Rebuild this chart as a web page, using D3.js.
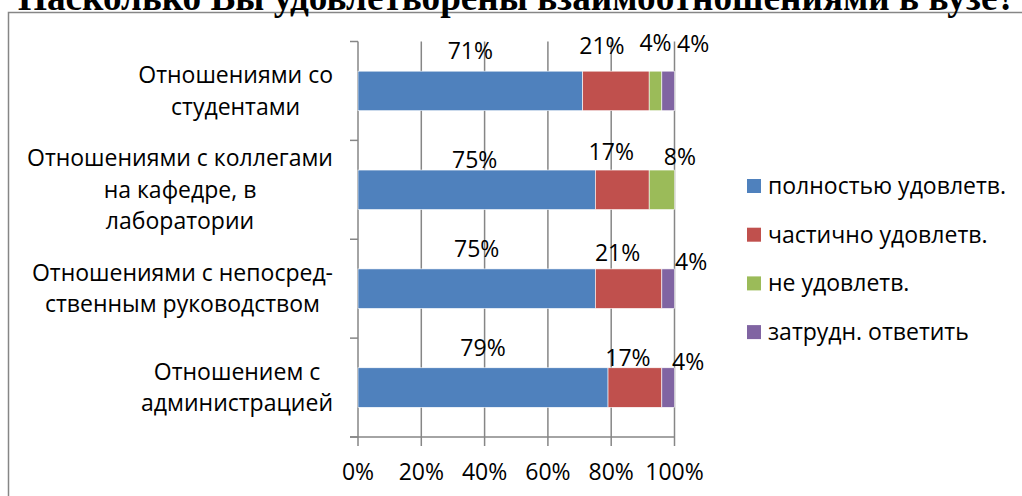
<!DOCTYPE html>
<html>
<head>
<meta charset="utf-8">
<script src="https://cdnjs.cloudflare.com/ajax/libs/d3/7.8.5/d3.min.js"></script>
<style>
    body { margin:0; background:#fff; }
    svg { display:block; }
    .txt { font-family:"Open Sans", "Noto Sans", sans-serif; fill:#000; }
</style>
</head>
<body>
<svg id="chart"></svg>
<script>
// Chart data
var categories = ["Отношениями со студентами",
                  "Отношениями с коллегами на кафедре, в лаборатории",
                  "Отношениями с непосред- ственным руководством",
                  "Отношением с администрацией"];
// how each category label is broken into lines
var categoryLines = [["Отношениями со","студентами"],
                     ["Отношениями с коллегами","на кафедре, в","лаборатории"],
                     ["Отношениями с непосред-","ственным руководством"],
                     ["Отношением с","администрацией"]];
var seriesNames = ["полностью удовлетв.","частично удовлетв.","не удовлетв.","затрудн. ответить"];
var fullySatisfied = [71, 75, 75, 79];
var partlySatisfied = [21, 17, 21, 17];
var notSatisfied = [4, 8, 0, 0];
var hardToSay = [4, 0, 4, 4];
var xTicks = [0, 20, 40, 60, 80, 100];
var titleText = "Насколько Вы удовлетворены взаимоотношениями в вузе?";

var colors = ["#4F81BD","#C0504D","#9BBB59","#8064A2"];

// label nudges (the labels were moved by hand in the original)
var labelDx = [[0,-14,0,25],[-2,-11,18,0],[0,-11,0,23],[0,-7,0,20]];
var labelDy = [[-20,-25,-28,-27],[-10,-18,-13,0],[-20,-16,0,-7],[-20,-10,0,-6]];

var fontSize = 23;
var squeeze = 1;

var drawChart = function(target) {
    var screen = {width:1022, height:496};
    var plot = {left:358, right:674.5, top:41.5, bottom:437};

    var svg = d3.select(target)
        .attr("width",screen.width)
        .attr("height",screen.height);

    // outer frame
    svg.append("rect")
        .attr("x",8.5).attr("y",12.5)
        .attr("width",1200).attr("height",700)
        .attr("fill","#fff")
        .attr("stroke","#868686")
        .attr("stroke-width",1.5);

    // title, cut off at the top like the original
    svg.append("text")
        .text(titleText)
        .attr("x",517)
        .attr("y",10)
        .attr("text-anchor","middle")
        .attr("textLength",998)
        .attr("lengthAdjust","spacingAndGlyphs")
        .style("font-family","'Liberation Serif', 'DejaVu Serif', serif")
        .style("font-weight","bold")
        .style("font-size","37px");

    // build stacked data
    var table = categories.map(function(c,i) {
        return {category:c, values:[fullySatisfied[i],partlySatisfied[i],notSatisfied[i],hardToSay[i]]};
    });
    var stack = d3.stack().keys([0,1,2,3])
        .value(function(d,k) { return d.values[k]; });
    var layers = stack(table);

    var xScale = d3.scaleLinear()
        .domain([0,100])
        .range([plot.left,plot.right]);
    var yScale = d3.scaleBand()
        .domain(categories)
        .range([plot.top,plot.bottom]);
    var barH = yScale.bandwidth()*0.4;
    var barY = function(c) { return yScale(c)+(yScale.bandwidth()-barH)/2; };

    // gridlines
    svg.append("g")
        .selectAll("line")
        .data(xTicks)
        .enter()
        .append("line")
        .attr("x1",function(t) { return xScale(t); })
        .attr("x2",function(t) { return xScale(t); })
        .attr("y1",plot.top)
        .attr("y2",plot.bottom+9)
        .attr("stroke","#868686")
        .attr("stroke-width",1.5);

    // left axis line and category ticks
    var bounds = categories.map(function(c) { return yScale(c); }).concat([plot.bottom]);
    svg.append("g")
        .selectAll("line")
        .data(bounds)
        .enter()
        .append("line")
        .attr("x1",plot.left-8)
        .attr("x2",plot.left)
        .attr("y1",function(b) { return b; })
        .attr("y2",function(b) { return b; })
        .attr("stroke","#868686")
        .attr("stroke-width",1.5);
    svg.append("line")
        .attr("x1",plot.left-8).attr("x2",plot.right)
        .attr("y1",plot.bottom).attr("y2",plot.bottom)
        .attr("stroke","#868686").attr("stroke-width",1.5);

    // bars
    svg.append("g")
        .selectAll("g")
        .data(layers)
        .enter()
        .append("g")
        .attr("fill",function(l) { return colors[l.key]; })
        .selectAll("rect")
        .data(function(l) { return l; })
        .enter()
        .append("rect")
        .attr("x",function(d) { return xScale(d[0]); })
        .attr("width",function(d) { return xScale(d[1])-xScale(d[0]); })
        .attr("y",function(d) { return barY(d.data.category); })
        .attr("height",barH)
        .attr("stroke","#fff")
        .attr("stroke-width",0.6);

    // data labels
    var labels = [];
    layers.forEach(function(l) {
        l.forEach(function(d,i) {
            var v = d[1]-d[0];
            if (v > 0) labels.push({v:v, k:l.key, i:i, mid:(d[0]+d[1])/2, cat:d.data.category});
        });
    });
    svg.append("g")
        .selectAll("text")
        .data(labels)
        .enter()
        .append("text")
        .classed("txt",true)
        .text(function(d) { return d.v+"%"; })
        .attr("text-anchor","middle")
        .attr("transform",function(d) {
            var x = xScale(d.mid)+labelDx[d.i][d.k];
            var y = barY(d.cat)+labelDy[d.i][d.k]+8;
            return "translate("+x+","+y+") scale("+squeeze+",1)";
        })
        .style("font-size",fontSize+"px");

    // x tick labels
    svg.append("g")
        .selectAll("text")
        .data(xTicks)
        .enter()
        .append("text")
        .classed("txt",true)
        .text(function(t) { return t+"%"; })
        .attr("text-anchor","middle")
        .attr("transform",function(t) { return "translate("+xScale(t)+",480) scale("+squeeze+",1)"; })
        .style("font-size",fontSize+"px");

    // category labels, centred lines, block right aligned to the axis
    var lineH = 31.5;
    categoryLines.forEach(function(lines,i) {
        var g = svg.append("g");
        var texts = g.selectAll("text")
            .data(lines)
            .enter()
            .append("text")
            .classed("txt",true)
            .text(function(s) { return s; })
            .attr("text-anchor","middle")
            .style("font-size",fontSize+"px");
        var maxW = d3.max(texts.nodes(),function(n) { return n.getComputedTextLength(); })*squeeze;
        var cx = 333-maxW/2;
        var cy = yScale(categories[i])+yScale.bandwidth()/2;
        texts.attr("transform",function(s,j) {
            var y = cy+(j-(lines.length-1)/2)*lineH+8;
            return "translate("+cx+","+y+") scale("+squeeze+",1)";
        });
    });

    // legend
    var legend = svg.append("g")
        .selectAll("g")
        .data(seriesNames)
        .enter()
        .append("g")
        .attr("transform",function(s,i) { return "translate(747,"+(186+i*48.7)+")"; });
    legend.append("rect")
        .attr("x",0).attr("y",-7)
        .attr("width",14).attr("height",14)
        .attr("fill",function(s,i) { return colors[i]; });
    legend.append("text")
        .classed("txt",true)
        .text(function(s) { return s; })
        .attr("transform","translate(21,8) scale("+squeeze+",1)")
        .style("font-size",fontSize+"px");
}

drawChart("#chart");
</script>
</body>
</html>
